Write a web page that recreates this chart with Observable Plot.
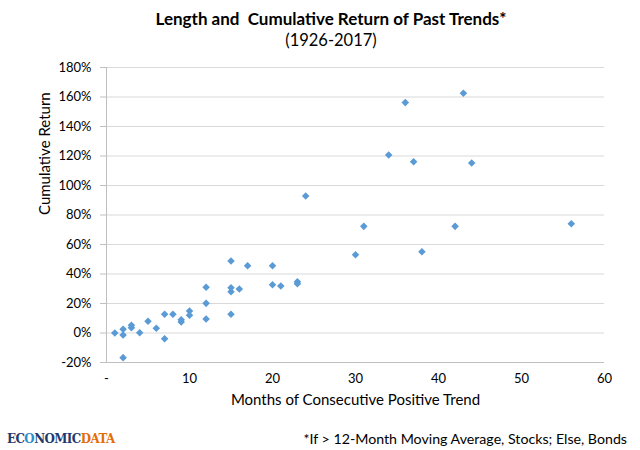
<!DOCTYPE html>
<html>
<head>
<meta charset="utf-8">
<script src="https://cdn.jsdelivr.net/npm/d3@7"></script>
<script src="https://cdn.jsdelivr.net/npm/@observablehq/plot@0.6"></script>
<style>
  html, body { margin: 0; padding: 0; background: #fff; }
  #wrap { position: relative; width: 640px; height: 450px; font-family: Lato, "Open Sans", sans-serif; color: #000; overflow: hidden; }
  .t { position: absolute; left: 0; width: 662px; text-align: center; white-space: nowrap; line-height: normal; }
  #title { top: 8px; font-size: 17px; font-weight: bold; }
  #subtitle { top: 30px; font-size: 16.5px; }
  #chart { position: absolute; top: 55px; left: 0; }
  #note { position: absolute; top: 430px; right: 13px; font-size: 14.2px; white-space: nowrap; }
  #logo { position: absolute; top: 431px; left: 7px; font-family: "DejaVu Serif", serif; font-weight: bold; font-size: 12.5px; letter-spacing: -0.6px; white-space: nowrap; transform-origin: 0 50%; transform: scaleX(0.95); }
  #logo .a { color: #1f3a6e; }
  #logo .o { color: #2e8fc9; }
  #logo .b { color: #e46c0a; }
</style>
</head>
<body>
<div id="wrap">
  <div id="title" class="t">Length and&nbsp; Cumulative Return of Past Trends*</div>
  <div id="subtitle" class="t">(1926-2017)</div>
  <div id="chart"></div>
  <div id="logo"><span class="a">EC</span><span class="o">O</span><span class="a">NOMIC</span><span class="b">DATA</span></div>
  <div id="note">*If &gt; 12-Month Moving Average, Stocks; Else, Bonds</div>
</div>
<script>
// Months of consecutive positive trend
const months = [1, 2, 2, 2, 3, 3, 4, 5, 6, 7, 7, 8, 9, 9, 10, 10, 12, 12, 12,
  15, 15, 15, 15, 16, 17, 20, 20, 21, 23, 23, 24, 30, 31, 34, 36, 37, 38, 42, 43, 44, 56];
// Cumulative return (%)
const returns = [0, 2.5, -1.4, -16.7, 5.2, 3.6, 0.2, 7.9, 3.2, -3.9, 12.7, 12.7, 9.0, 7.5, 14.9, 12.0, 31, 20.1, 9.5,
  48.8, 30.7, 28, 12.7, 29.8, 45.6, 45.6, 32.7, 31.9, 34.8, 33.4, 92.9, 53.1, 72.3, 120.7, 156.2, 116.1, 55.1, 72.3, 162.5, 115.3, 74.1];

const xTicks = [0, 10, 20, 30, 40, 50, 60];
const yTicks = [-20, 0, 20, 40, 60, 80, 100, 120, 140, 160, 180];
const xTitle = "Months of Consecutive Positive Trend";
const yTitle = "Cumulative Return";

const data = months.map((m, i) => ({months: m, ret: returns[i]}));

const chart = Plot.plot({
  width: 640,
  height: 360,
  marginTop: 12,
  marginBottom: 53,
  marginLeft: 106,
  marginRight: 36,
  style: {fontFamily: "Lato, 'Open Sans', sans-serif", fontSize: "13px", color: "#000", background: "#fff"},
  x: {domain: [0, 60]},
  y: {domain: [-20, 180]},
  marks: [
    Plot.ruleY(yTicks, {stroke: "#d9d9d9", strokeWidth: 1}),
    Plot.ruleX([0], {stroke: "#bfbfbf", strokeWidth: 1}),
    Plot.ruleY([-20], {stroke: "#bfbfbf", strokeWidth: 1}),
    Plot.axisY({ticks: yTicks, tickSize: 6, tickPadding: 9, stroke: "#bfbfbf",
      tickFormat: d => d + "%", label: null, fontSize: 13, fill: "#000"}),
    Plot.axisX({ticks: xTicks, tickSize: 0, tickPadding: 11,
      tickFormat: d => d === 0 ? "-" : String(d), label: null, fontSize: 13, fill: "#000"}),
    Plot.dot(data, {x: "months", y: "ret", symbol: "diamond2", r: 3.4, fill: "#5b9bd5", stroke: "none"}),
    Plot.text([yTitle], {frameAnchor: "left", dx: -61, rotate: -90, fontSize: 15, fill: "#000"}),
    Plot.text([xTitle], {frameAnchor: "bottom", dy: 42, fontSize: 15, fill: "#000"})
  ]
});
document.getElementById("chart").appendChild(chart);
</script>
</body>
</html>
